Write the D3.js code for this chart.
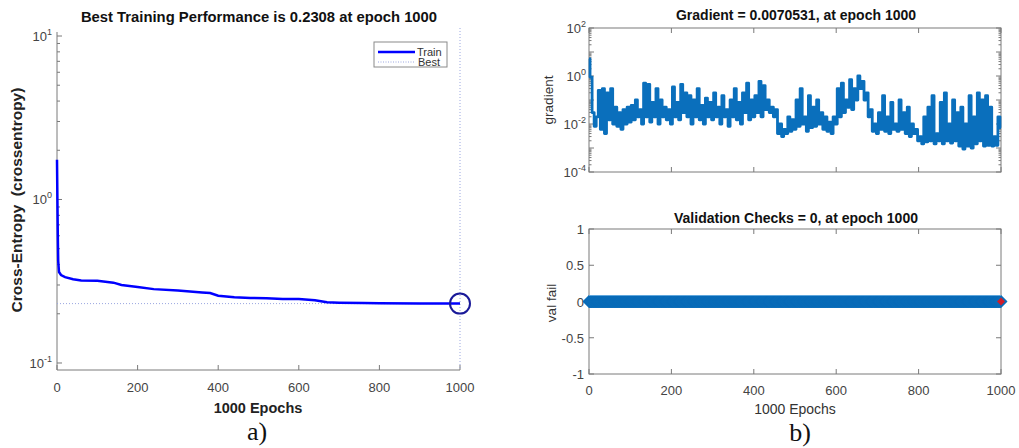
<!DOCTYPE html>
<html>
<head>
<meta charset="utf-8">
<script src="https://cdn.jsdelivr.net/npm/d3@7"></script>
<style>
  body { margin: 0; background: #fff; }
  text { font-family: "Liberation Sans", Arial, sans-serif; }
</style>
</head>
<body>
<div id="chart"></div>
<script>
// ---- data ----
const trainEpochs = [0, 1, 2, 3, 5, 10, 20, 40, 60, 100, 140, 160, 200, 240, 300, 360, 380, 400, 440, 480, 520, 560, 600, 640, 670, 700, 760, 800, 900, 1000];
const trainLoss   = [1.75, 1.0, 0.6, 0.42, 0.36, 0.345, 0.335, 0.325, 0.32, 0.318, 0.31, 0.30, 0.292, 0.283, 0.278, 0.27, 0.268, 0.258, 0.252, 0.25, 0.249, 0.246, 0.246, 0.242, 0.235, 0.234, 0.233, 0.232, 0.2315, 0.2308];
const bestPerf = 0.2308, bestEpoch = 1000;

// gradient, one value every 5 epochs
const gradStep = 5;
const gradient = [
  5.2, 0.9, 0.03, 0.008, 0.02, 0.25, 0.006, 0.3, 0.004, 0.2,
  0.015, 0.3, 0.01, 0.05, 0.008, 0.03, 0.006, 0.04, 0.01, 0.05,
  0.012, 0.06, 0.015, 0.1, 0.02, 0.04, 0.01, 0.5, 0.02, 0.45,
  0.012, 0.08, 0.02, 0.3, 0.01, 0.1, 0.02, 0.05, 0.015, 0.04,
  0.01, 0.35, 0.02, 0.08, 0.015, 0.45, 0.03, 0.2, 0.02, 0.15,
  0.01, 0.1, 0.02, 0.3, 0.015, 0.06, 0.01, 0.12, 0.02, 0.08,
  0.015, 0.2, 0.02, 0.05, 0.01, 0.15, 0.02, 0.04, 0.008, 0.1,
  0.02, 0.3, 0.015, 0.08, 0.01, 0.2, 0.03, 0.5, 0.015, 0.1,
  0.02, 0.15, 0.03, 0.6, 0.02, 0.4, 0.04, 0.1, 0.03, 0.05,
  0.02, 0.04, 0.004, 0.01, 0.003, 0.006, 0.004, 0.02, 0.005, 0.015,
  0.006, 0.1, 0.008, 0.3, 0.01, 0.02, 0.005, 0.15, 0.007, 0.05,
  0.008, 0.1, 0.01, 0.03, 0.006, 0.02, 0.005, 0.012, 0.004, 0.02,
  0.01, 0.3, 0.02, 0.5, 0.03, 0.1, 0.05, 0.7, 0.04, 0.3,
  0.1, 1.0, 0.3, 0.6, 0.1, 0.2, 0.02, 0.04, 0.005, 0.01,
  0.004, 0.03, 0.006, 0.15, 0.005, 0.02, 0.004, 0.08, 0.006, 0.01,
  0.005, 0.1, 0.006, 0.03, 0.004, 0.05, 0.003, 0.01, 0.004, 0.006,
  0.002, 0.003, 0.0015, 0.02, 0.0018, 0.05, 0.002, 0.15, 0.0015, 0.004,
  0.002, 0.08, 0.0015, 0.2, 0.002, 0.01, 0.0016, 0.1, 0.002, 0.03,
  0.0012, 0.05, 0.0009, 0.01, 0.0012, 0.15, 0.001, 0.02, 0.0015, 0.2,
  0.002, 0.1, 0.0012, 0.15, 0.0013, 0.05, 0.0012, 0.003, 0.0013, 0.02,
  0.0070531
];

const valFail = new Array(1001).fill(0);   // validation checks were 0 at every epoch
const epochTicks = [0, 200, 400, 600, 800, 1000];
const valTicks = [-1, -0.5, 0, 0.5, 1];

// ---- setup ----
const W = 1019, H = 448;
const axisCol = "#7a7a7a", labelCol = "#444";
const serif = "'Liberation Serif', 'Times New Roman', serif";

const svg = d3.select("#chart").append("svg")
    .attr("width", W).attr("height", H);

function logLabel(sel, exps, y, xRight) {
  exps.forEach(e => {
    const t = sel.append("text")
        .attr("x", xRight).attr("y", y(Math.pow(10, e)) + 5)
        .attr("text-anchor", "end")
        .attr("fill", labelCol).attr("font-size", 13);
    t.append("tspan").text("10");
    t.append("tspan").attr("dy", -6).attr("font-size", 9).text(e);
  });
}

function minorVals(lo, hi) {
  const out = [];
  for (let e = lo; e < hi; e++)
    for (let k = 1; k <= 9; k++) out.push(k * Math.pow(10, e));
  out.push(Math.pow(10, hi));
  return out;
}
const isDecade = d => Math.abs(Math.log10(d) - Math.round(Math.log10(d))) < 1e-9;

// ================= a) performance =================
const xA = d3.scaleLinear().domain([0, 1000]).range([57, 460]);
const yA = d3.scaleLog().domain([0.0906, 10.58]).range([370, 32]);
const gA = svg.append("g");

// axes lines (left + bottom only)
gA.append("line").attr("x1", 57).attr("x2", 57).attr("y1", 32).attr("y2", 370)
    .attr("stroke", axisCol);
gA.append("line").attr("x1", 57).attr("x2", 460).attr("y1", 370).attr("y2", 370)
    .attr("stroke", axisCol);

// y ticks
gA.selectAll(".ymin").data(minorVals(-1, 1).filter(v => v >= 0.0906 && v <= 10.58))
  .enter().append("line")
    .attr("x1", 57).attr("x2", d => isDecade(d) ? 62 : 60)
    .attr("y1", d => yA(d)).attr("y2", d => yA(d))
    .attr("stroke", axisCol);
logLabel(gA, [1, 0, -1], yA, 52);

// x ticks
gA.selectAll(".xt").data(epochTicks).enter().append("line")
    .attr("x1", d => xA(d)).attr("x2", d => xA(d))
    .attr("y1", 370).attr("y2", 365).attr("stroke", axisCol);
gA.selectAll(".xl").data(epochTicks).enter().append("text")
    .attr("x", d => xA(d)).attr("y", 392)
    .attr("text-anchor", "middle").attr("fill", labelCol).attr("font-size", 13)
    .text(d => d);

// best lines
gA.append("line")
    .attr("x1", xA(bestEpoch)).attr("x2", xA(bestEpoch))
    .attr("y1", 28).attr("y2", 370)
    .attr("stroke", "#9aa6e0").attr("stroke-dasharray", "1,2");
gA.append("line")
    .attr("x1", xA(0)).attr("x2", xA(bestEpoch))
    .attr("y1", yA(bestPerf)).attr("y2", yA(bestPerf))
    .attr("stroke", "#9aa6e0").attr("stroke-dasharray", "1,2");

// train curve
const lineA = d3.line().x((d, i) => xA(trainEpochs[i])).y(d => yA(d));
gA.append("path").datum(trainLoss)
    .attr("d", lineA).attr("fill", "none")
    .attr("stroke", "#0000ff").attr("stroke-width", 2.5);

gA.append("circle")
    .attr("cx", xA(bestEpoch)).attr("cy", yA(bestPerf)).attr("r", 10)
    .attr("fill", "none").attr("stroke", "#1a1a99").attr("stroke-width", 2);

// legend
const lg = gA.append("g");
lg.append("rect").attr("x", 374).attr("y", 42).attr("width", 73).attr("height", 25)
    .attr("fill", "#fff").attr("stroke", "#8a8a8a");
lg.append("line").attr("x1", 378).attr("x2", 415).attr("y1", 52).attr("y2", 52)
    .attr("stroke", "#0000ff").attr("stroke-width", 2.5);
lg.append("line").attr("x1", 378).attr("x2", 415).attr("y1", 62).attr("y2", 62)
    .attr("stroke", "#9aa6e0").attr("stroke-dasharray", "1,1.5");
lg.append("text").attr("x", 417).attr("y", 56).attr("font-size", 11).attr("fill", "#333").text("Train");
lg.append("text").attr("x", 418).attr("y", 66).attr("font-size", 11).attr("fill", "#333").text("Best");

// labels
gA.append("text").attr("x", 259).attr("y", 22).attr("text-anchor", "middle")
    .attr("font-size", 14.8).attr("font-weight", "bold").attr("fill", "#111")
    .text("Best Training Performance is 0.2308 at epoch 1000");
gA.append("text").attr("transform", "translate(22,200) rotate(-90)")
    .attr("text-anchor", "middle").attr("font-size", 15.5).attr("font-weight", "bold").attr("fill", "#222")
    .attr("xml:space", "preserve")
    .text("Cross-Entropy  (crossentropy)");
gA.append("text").attr("x", 258).attr("y", 413).attr("text-anchor", "middle")
    .attr("font-size", 14.5).attr("font-weight", "bold").attr("fill", "#222")
    .text("1000 Epochs");
gA.append("text").attr("x", 257).attr("y", 440).attr("text-anchor", "middle")
    .style("font-family", serif)
    .attr("font-size", 26).attr("fill", "#111").text("a)");

// ================= b) gradient =================
const xB = d3.scaleLinear().domain([0, 1000]).range([589, 1001]);
const yB = d3.scaleLog().domain([1e-4, 1e2]).range([172, 28]);
const gB = svg.append("g");

gB.append("rect").attr("x", 589).attr("y", 28).attr("width", 412).attr("height", 144)
    .attr("fill", "none").attr("stroke", axisCol);
gB.selectAll(".ymin").data(minorVals(-4, 2)).enter().append("line")
    .attr("x1", 589).attr("x2", d => isDecade(d) ? 594 : 591.5)
    .attr("y1", d => yB(d)).attr("y2", d => yB(d)).attr("stroke", axisCol);
gB.selectAll(".ymin2").data(minorVals(-4, 2)).enter().append("line")
    .attr("x1", 1001).attr("x2", d => isDecade(d) ? 996 : 998.5)
    .attr("y1", d => yB(d)).attr("y2", d => yB(d)).attr("stroke", axisCol);
gB.selectAll(".xt").data(epochTicks).enter().append("line")
    .attr("x1", d => xB(d)).attr("x2", d => xB(d)).attr("y1", 172).attr("y2", 167).attr("stroke", axisCol);
gB.selectAll(".xt2").data(epochTicks).enter().append("line")
    .attr("x1", d => xB(d)).attr("x2", d => xB(d)).attr("y1", 28).attr("y2", 33).attr("stroke", axisCol);
logLabel(gB, [2, 0, -2, -4], yB, 586);

const lineB = d3.line().x((d, i) => xB(i * gradStep)).y(d => yB(d)).curve(d3.curveStep);
gB.append("path").datum(gradient)
    .attr("d", lineB).attr("fill", "none")
    .attr("stroke", "#0a6fbc").attr("stroke-width", 2.8).attr("stroke-linejoin", "round");

gB.append("text").attr("x", 796).attr("y", 20).attr("text-anchor", "middle")
    .attr("font-size", 14).attr("font-weight", "bold").attr("fill", "#111")
    .text("Gradient = 0.0070531, at epoch 1000");
gB.append("text").attr("transform", "translate(553,100) rotate(-90)")
    .attr("text-anchor", "middle").attr("font-size", 13.5).attr("fill", "#333")
    .text("gradient");

// ================= b) validation checks =================
const yC = d3.scaleLinear().domain([-1, 1]).range([374, 229]);
const gC = svg.append("g");

gC.append("rect").attr("x", 589).attr("y", 229).attr("width", 412).attr("height", 145)
    .attr("fill", "none").attr("stroke", axisCol);
gC.selectAll(".yt").data(valTicks).enter().append("line")
    .attr("x1", 589).attr("x2", 594).attr("y1", d => yC(d)).attr("y2", d => yC(d)).attr("stroke", axisCol);
gC.selectAll(".yt2").data(valTicks).enter().append("line")
    .attr("x1", 1001).attr("x2", 996).attr("y1", d => yC(d)).attr("y2", d => yC(d)).attr("stroke", axisCol);
gC.selectAll(".yl").data(valTicks).enter().append("text")
    .attr("x", 584).attr("y", d => yC(d) + 5).attr("text-anchor", "end")
    .attr("font-size", 13).attr("fill", labelCol).text(d => d);
gC.selectAll(".xt").data(epochTicks).enter().append("line")
    .attr("x1", d => xB(d)).attr("x2", d => xB(d)).attr("y1", 374).attr("y2", 369).attr("stroke", axisCol);
gC.selectAll(".xt2").data(epochTicks).enter().append("line")
    .attr("x1", d => xB(d)).attr("x2", d => xB(d)).attr("y1", 229).attr("y2", 234).attr("stroke", axisCol);
gC.selectAll(".xl").data(epochTicks).enter().append("text")
    .attr("x", d => xB(d)).attr("y", 395).attr("text-anchor", "middle")
    .attr("font-size", 13).attr("fill", labelCol).text(d => d);

const diamond = r => `M0,${-r}L${r},0L0,${r}L${-r},0Z`;
gC.selectAll(".vf").data(valFail).enter().append("path")
    .attr("transform", (d, i) => `translate(${xB(i)},${yC(d)})`)
    .attr("d", diamond(6.5))
    .attr("fill", "#0a6cb8");
gC.append("line").attr("x1", xB(0)).attr("x2", xB(1000))
    .attr("y1", yC(0) - 6).attr("y2", yC(0) - 6)
    .attr("stroke", "#5fa6dc").attr("stroke-width", 1);
gC.append("path")
    .attr("transform", `translate(${xB(1000)},${yC(valFail[1000])})`)
    .attr("d", diamond(4)).attr("fill", "#d01c2a");

gC.append("text").attr("x", 796).attr("y", 223).attr("text-anchor", "middle")
    .attr("font-size", 14).attr("font-weight", "bold").attr("fill", "#111")
    .text("Validation Checks = 0, at epoch 1000");
gC.append("text").attr("transform", "translate(556,303) rotate(-90)")
    .attr("text-anchor", "middle").attr("font-size", 13.5).attr("fill", "#333")
    .text("val fail");
gC.append("text").attr("x", 795).attr("y", 414).attr("text-anchor", "middle")
    .attr("font-size", 14).attr("fill", "#333").text("1000 Epochs");
gC.append("text").attr("x", 800).attr("y", 441).attr("text-anchor", "middle")
    .style("font-family", serif)
    .attr("font-size", 26).attr("fill", "#111").text("b)");
</script>
</body>
</html>
